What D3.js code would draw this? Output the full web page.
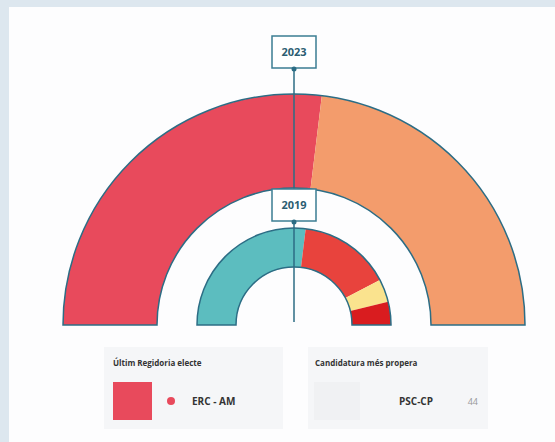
<!DOCTYPE html>
<html>
<head>
<meta charset="utf-8">
<script src="https://cdn.jsdelivr.net/npm/d3@7"></script>
<style>
html,body{margin:0;overflow:hidden;background:#dde7ef;font-family:"Open Sans",sans-serif;}
#chart{position:absolute;left:0;top:0;}
#chart svg{display:block;}
</style>
</head>
<body>
<div id="chart"></div>
<script>
// seats per candidatura, left to right
const years = ["2023", "2019"];
const parties2023 = ["ERC - AM", "PSC-CP"];
const seats2023 = [7, 6];
const colors2023 = ["#e84a5c", "#f39c6c"];
const parties2019 = ["A", "B", "C", "D"];
const seats2019 = [7, 4, 1, 1];
const colors2019 = ["#5cbdbf", "#e8433d", "#fae38e", "#d91c1f"];

const lastElected = "ERC - AM";
const nearest = "PSC-CP";
const nearestVotes = 44;

const width = 555;
const height = 442;
const cx = 294, cy = 325;

var svg = d3.select("#chart").append("svg")
    .attr("width", width)
    .attr("height", height);

// white panel
svg.append("rect")
    .attr("x", 9).attr("y", 7)
    .attr("width", width - 9).attr("height", height - 7)
    .attr("fill", "#fdfdfe");

var g = svg.append("g").attr("transform", "translate(" + cx + "," + cy + ")");

var pie = d3.pie().sort(null)
    .startAngle(-Math.PI / 2)
    .endAngle(Math.PI / 2);

var rings = [
    {seats: seats2023, colors: colors2023, names: parties2023, r0: 137, r1: 231},
    {seats: seats2019, colors: colors2019, names: parties2019, r0: 58, r1: 97}
];

rings.forEach(function (ring) {
    var arc = d3.arc().innerRadius(ring.r0).outerRadius(ring.r1);
    g.selectAll(null)
        .data(pie(ring.seats))
        .enter()
        .append("path")
        .attr("d", arc)
        .attr("fill", (d, i) => ring.colors[i]);
    // outline of the whole half ring
    g.append("path")
        .attr("d", arc({startAngle: -Math.PI / 2, endAngle: Math.PI / 2}))
        .attr("fill", "none")
        .attr("stroke", "#2c6d85")
        .attr("stroke-width", 1.5);
});

// year markers
var boxes = [{year: years[0], y: 36}, {year: years[1], y: 189}];
const boxW = 44, boxH = 32;

g.append("line")
    .attr("x1", 0).attr("x2", 0)
    .attr("y1", boxes[0].y + boxH - cy)
    .attr("y2", -3)
    .attr("stroke", "#2c6d85")
    .attr("stroke-width", 1.5);

var mk = g.selectAll(".mk")
    .data(boxes)
    .enter()
    .append("g")
    .attr("class", "mk");

mk.append("rect")
    .attr("x", -boxW / 2)
    .attr("y", d => d.y - cy)
    .attr("width", boxW).attr("height", boxH)
    .attr("fill", "#fff")
    .attr("stroke", "#3b7d93")
    .attr("stroke-width", 1.5);

mk.append("circle")
    .attr("cx", 0)
    .attr("cy", d => d.y + boxH - cy + 1)
    .attr("r", 2.5)
    .attr("fill", "#2c6d85");

mk.append("text")
    .attr("x", 0)
    .attr("y", d => d.y - cy + boxH / 2 + 4)
    .attr("text-anchor", "middle")
    .attr("font-size", "11px")
    .attr("font-weight", "bold")
    .attr("fill", "#2b5d72")
    .text(d => d.year);

// cards
var cards = svg.append("g");
cards.append("rect")
    .attr("x", 104).attr("y", 347).attr("width", 179).attr("height", 82)
    .attr("fill", "#f5f6f8");
cards.append("rect")
    .attr("x", 308).attr("y", 347).attr("width", 180).attr("height", 82)
    .attr("fill", "#f5f6f8");

cards.append("text")
    .attr("x", 113).attr("y", 366)
    .attr("font-size", "8px").attr("font-weight", "bold")
    .attr("fill", "#333")
    .text("Últim Regidoria electe");
cards.append("rect")
    .attr("x", 113).attr("y", 382).attr("width", 39).attr("height", 38)
    .attr("fill", colors2023[parties2023.indexOf(lastElected)]);
cards.append("circle")
    .attr("cx", 171).attr("cy", 401).attr("r", 4)
    .attr("fill", colors2023[parties2023.indexOf(lastElected)]);
cards.append("text")
    .attr("x", 192).attr("y", 405)
    .attr("font-size", "10px").attr("font-weight", "bold")
    .attr("fill", "#333")
    .text(lastElected);

cards.append("text")
    .attr("x", 315).attr("y", 366)
    .attr("font-size", "8px").attr("font-weight", "bold")
    .attr("fill", "#333")
    .text("Candidatura més propera");
cards.append("rect")
    .attr("x", 314).attr("y", 382).attr("width", 46).attr("height", 38)
    .attr("fill", "#f0f1f3");
cards.append("text")
    .attr("x", 433).attr("y", 405)
    .attr("text-anchor", "end")
    .attr("font-size", "10px").attr("font-weight", "bold")
    .attr("fill", "#333")
    .text(nearest);
cards.append("text")
    .attr("x", 478).attr("y", 405)
    .attr("text-anchor", "end")
    .attr("font-size", "9px")
    .attr("fill", "#999")
    .text(nearestVotes);
</script>
</body>
</html>
